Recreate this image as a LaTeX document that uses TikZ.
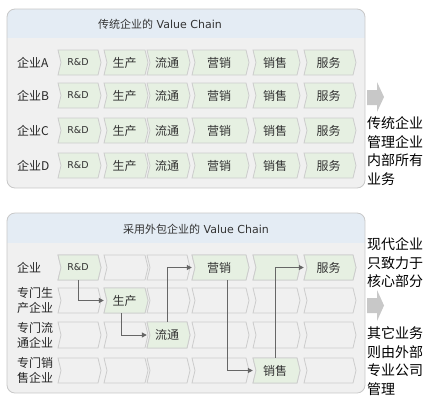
\documentclass[tikz,border=0pt]{standalone}
\usepackage{fontspec}
\setmainfont{DejaVu Sans}
\newfontfamily\cjk{Noto Sans CJK SC}
\usetikzlibrary{arrows.meta}
\definecolor{panelbg}{HTML}{F0F0F0}
\definecolor{panelline}{HTML}{C8C8C8}
\definecolor{bandc}{HTML}{E4ECF4}
\definecolor{chevfill}{HTML}{E6F0E2}
\definecolor{chevline}{HTML}{CCCCCC}
\definecolor{connc}{HTML}{666666}
\definecolor{arrowc}{HTML}{C8C8C8}
\definecolor{txt}{HTML}{333333}
\newcommand\rdtext{{\rmfamily\fontsize{9.5}{11}\selectfont R\&D}}
\newcommand\vcshape[5]{%
  \path[#1] (#2,#4) -- (#3,#4) -- ({#3+3},{(#4+#5)/2}) -- (#3,#5) -- (#2,#5) -- ({#2+3},{(#4+#5)/2}) -- cycle;}
\newcommand\vcchev[7]{%
  \vcshape{#1}{#3}{#4}{#5}{#6}%
  \node[chevtext, minimum width={#4-#3}, minimum height={#6-#5}] (#2) at ({(#3+#4)/2},{(#5+#6)/2}) {#7};}
\tikzset{
  panelframe/.style={draw=panelline, line width=0.8pt, rounded corners=8pt},
  chevgreen/.style={draw=chevline, fill=chevfill, line width=0.8pt},
  chevempty/.style={draw=chevline, fill=panelbg, line width=0.8pt},
  chevtext/.style={inner sep=0pt, text=txt, font=\cjk\fontsize{12}{14}\selectfont},
  titletext/.style={inner sep=0pt, text=txt, font=\fontsize{11}{13}\selectfont},
  rowlab/.style={anchor=west, inner sep=0pt, text=black!85, align=left, font=\cjk\fontsize{12}{15}\selectfont},
  sidetext/.style={anchor=north west, inner sep=0pt, text=black, align=left, font=\cjk\fontsize{14}{18.5}\selectfont},
  conn/.style={draw=connc, line width=1pt, -{Triangle[length=5pt,width=5pt]}},
  bigarrow/.style={fill=arrowc}
}
\begin{document}
\begin{tikzpicture}[x=1pt,y=-1pt]
\useasboundingbox (0,0) rectangle (425,400);
\fill[white] (0,0) rectangle (425,400);
% ---------- top panel ----------
\begin{scope}
  \clip[rounded corners=8pt] (7,9) rectangle (365,188);
  \fill[panelbg] (7,9) rectangle (365,188);
  \fill[bandc] (7,9) rectangle (365,38);
\end{scope}
\draw[panelframe] (7,9) rectangle (365,188);
\node[titletext] (title1) at (160,24) {{\cjk 传统企业的} Value Chain};
\foreach \r/\ya/\yb in {A/50/75, B/83/108, C/118/143, D/153/178} {
  \node[rowlab] (lab\r) at (17,{(\ya+\yb)/2}) {企业\r};
  \foreach \c/\xa/\xb/\t in {1/58/98/\rdtext, 2/104/145/生产, 3/147/187/流通, 4/192/246/营销, 5/253/297/销售, 6/304/353/服务} {
    \vcchev{chevgreen}{t\r\c}{\xa}{\xb}{\ya}{\yb}{\t}
  }
}
% ---------- bottom panel ----------
\begin{scope}
  \clip[rounded corners=8pt] (7,213) rectangle (365,393);
  \fill[panelbg] (7,213) rectangle (365,393);
  \fill[bandc] (7,213) rectangle (365,243);
\end{scope}
\draw[panelframe] (7,213) rectangle (365,393);
\node[titletext] (title2) at (196,229) {{\cjk 采用外包企业的} Value Chain};
\node[rowlab] (blab1) at (17,267.5) {企业};
\node[rowlab] (blab2) at (17,300.5) {专门生\\产企业};
\node[rowlab] (blab3) at (17,335) {专门流\\通企业};
\node[rowlab] (blab4) at (17,370.5) {专门销\\售企业};
\foreach \ya/\yb in {255/280, 288/313, 322/348, 358/383} {
  \foreach \xa/\xb in {58/98, 104/145, 147/187, 192/246, 253/297, 304/353} {
    \vcshape{chevempty}{\xa}{\xb}{\ya}{\yb}
  }
}
\vcchev{chevgreen}{rd}{58}{98}{255}{280}{\rdtext}
\vcchev{chevgreen}{yx}{192}{246}{255}{280}{营销}
\vcchev{chevgreen}{g5}{253}{297}{255}{280}{}
\vcchev{chevgreen}{fw}{304}{353}{255}{280}{服务}
\vcchev{chevgreen}{sc}{104}{145}{288}{313}{生产}
\vcchev{chevgreen}{lt}{147}{187}{322}{348}{流通}
\vcchev{chevgreen}{xs}{253}{297}{358}{383}{销售}
% connectors
\draw[conn] (rd.south) |- (sc.west);
\draw[conn] ([xshift=-3pt]sc.south) |- (lt.west);
\draw[conn] (lt.north) |- (yx.west);
\draw[conn] ([xshift=8pt]yx.south) |- (xs.west);
\draw[conn] (xs.north) |- (fw.west);
% ---------- side arrows and texts ----------
\path[bigarrow] (367,90) -- (377,90) -- (377,82) -- (384,97) -- (377,112) -- (377,105) -- (367,105) -- cycle;
\path[bigarrow] (367,298) -- (377,298) -- (377,290) -- (384,305.5) -- (377,321) -- (377,313) -- (367,313) -- cycle;
\node[sidetext] (side1) at (367,116.5) {传统企业\\管理企业\\内部所有\\业务};
\node[sidetext] (side2) at (367,237.5) {现代企业\\只致力于\\核心部分};
\node[sidetext] (side3) at (367,326.5) {其它业务\\则由外部\\专业公司\\管理};
\end{tikzpicture}
\end{document}
